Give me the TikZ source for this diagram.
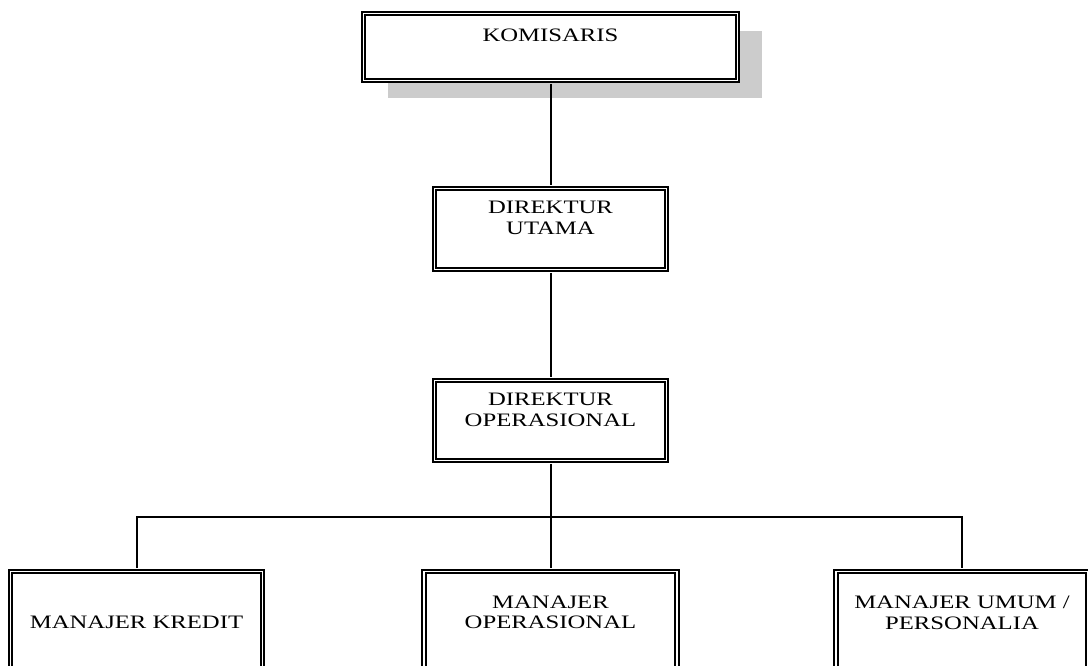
\documentclass[tikz,border=0pt]{standalone}
\usepackage{fontspec}
\newfontfamily\orgfont{Liberation Serif}[FakeStretch=1.3]
\usetikzlibrary{shadows}
\begin{document}
\begin{tikzpicture}[x=1pt, y=-1pt,
  box/.style={draw, fill=white, line width=1.8pt, double, double distance=1.5pt,
    inner sep=0pt, anchor=north, align=center,
    font=\orgfont\fontsize{19pt}{20.5pt}\selectfont},
  link/.style={line width=2pt, shorten <=2.5pt, shorten >=2.5pt}]
\clip (0, 0) rectangle (1088, 666);

\node (kom) at (550.5, 12.5) [box, minimum width=374pt, text height=28.5pt, text depth=38.5pt,
  drop shadow={shadow xshift=24pt, shadow yshift=-17.5pt, fill=black!20, opacity=1}] {KOMISARIS};
\node (utama) at (550.5, 187.5) [box, minimum width=232pt, text height=46pt, text depth=35pt] {DIREKTUR\\UTAMA};
\node (oper) at (550.5, 379.5) [box, minimum width=232pt, text height=46pt, text depth=34pt] {DIREKTUR\\OPERASIONAL};

\node (kredit) at (136.5, 570.5) [box, minimum width=252pt, text height=57pt, text depth=58pt] {MANAJER KREDIT};
\node (mop) at (550.5, 570.5) [box, minimum width=253pt, text height=57.5pt, text depth=58pt] {MANAJER\\OPERASIONAL};
\node (umum) at (962, 570.5) [box, minimum width=252pt, text height=58pt, text depth=57pt] {MANAJER UMUM /\\PERSONALIA};

\coordinate (bus) at (550.5, 517);
\draw [link] (kom) -- (utama);
\draw [link] (utama) -- (oper);
\draw [link] (oper) -- (mop);
\draw [link] (kredit.north) |- (bus) -| (umum.north);
\end{tikzpicture}
\end{document}
